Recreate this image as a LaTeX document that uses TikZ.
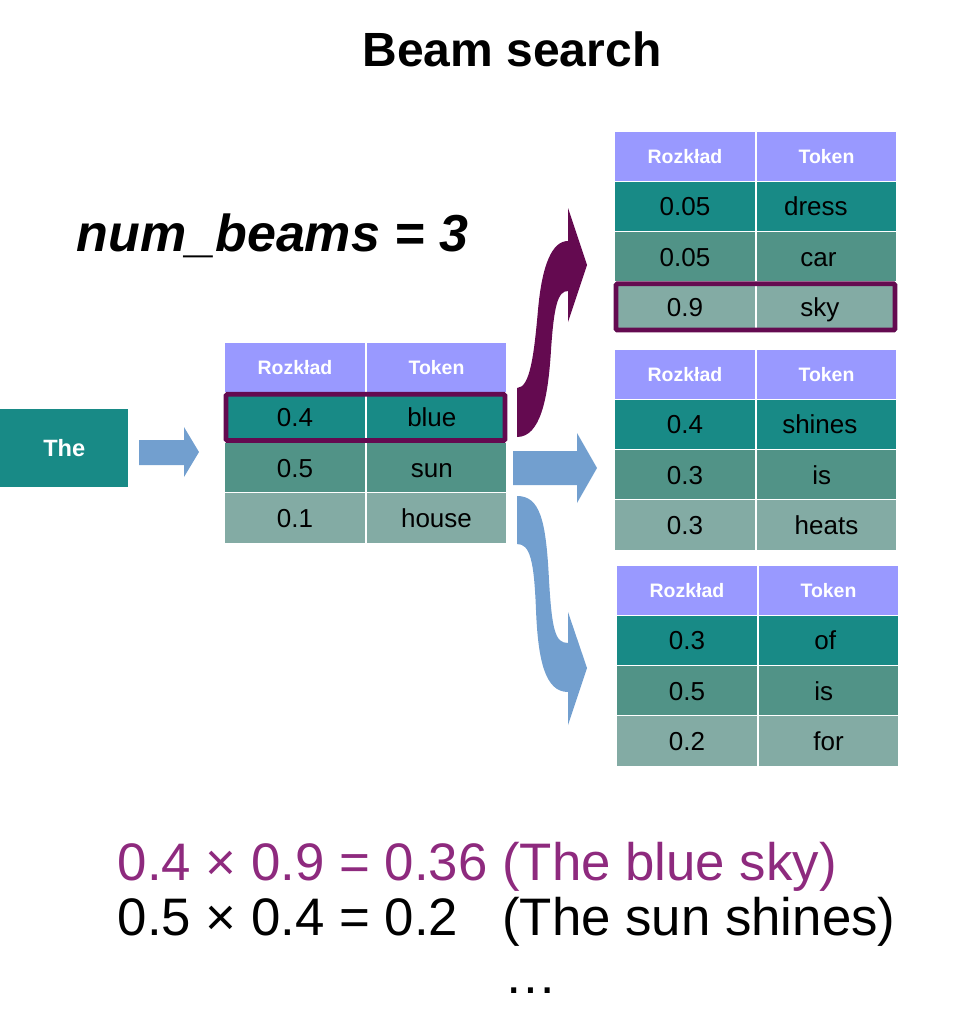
\documentclass[tikz,border=0pt]{standalone}
\usepackage{fontspec}
\setmainfont{Liberation Sans}
\usetikzlibrary{positioning}

\definecolor{hdrblue}{HTML}{9999FF}
\definecolor{tealA}{HTML}{188A86}
\definecolor{tealB}{HTML}{519387}
\definecolor{tealC}{HTML}{83ABA4}
\definecolor{arrowblue}{HTML}{729FCF}
\definecolor{pickpurple}{HTML}{640A50}
\definecolor{sumpurple}{HTML}{8E2A7E}

\tikzset{
  cell/.style={draw=white, line width=0.8pt, outer sep=0pt, inner sep=0pt,
    minimum height=37.7pt, text height=14pt, text depth=0pt, text=black,
    font=\fontsize{19.5}{23}\selectfont},
  colA/.style={minimum width=106.5pt},
  colB/.style={minimum width=105.75pt},
  hdrcell/.style={cell, fill=hdrblue, text=white, text height=10.5pt,
    font=\fontsize{14.6}{17}\selectfont\bfseries},
  rowA/.style={cell, fill=tealA},
  rowB/.style={cell, fill=tealB},
  rowC/.style={cell, fill=tealC},
  pickbox/.style={draw=pickpurple, line width=3.5pt, rounded corners=1pt},
}

% one table: name, x, y, then the three rows
\newcommand{\probtable}[9]{%
  \node[hdrcell, colA, anchor=north west] (#1h1) at (#2,#3) {Rozkład};
  \node[hdrcell, colB, right=0pt of #1h1] (#1h2) {Token};
  \node[rowA, colA, below=0pt of #1h1] (#1a1) {#4};
  \node[rowA, colB, below=0pt of #1h2] (#1a2) {#5};
  \node[rowB, colA, below=0pt of #1a1] (#1b1) {#6};
  \node[rowB, colB, below=0pt of #1a2] (#1b2) {#7};
  \node[rowC, colA, below=0pt of #1b1] (#1c1) {#8};
  \node[rowC, colB, below=0pt of #1b2] (#1c2) {#9};
}

\begin{document}
\begin{tikzpicture}[x=0.75pt, y=-0.75pt]

  \useasboundingbox (0,0) rectangle (954,1024);

  % Title
  \node[anchor=base, font=\fontsize{36}{40}\selectfont\bfseries] (title) at (512,67) {Beam search};
  \node[anchor=base west, font=\fontsize{39}{44}\selectfont\bfseries\itshape] (beams) at (72,251) {num\_beams = 3};

  % Start word
  \node[fill=tealA, text=white, minimum width=96pt, minimum height=58.5pt, inner sep=0pt,
    anchor=north west, font=\fontsize{17.7}{20}\selectfont\bfseries] (start) at (0,409) {The};

  % Tables
  \probtable{first}{224}{342}{0.4}{blue\hspace*{7pt}}{0.5}{sun\hspace*{7pt}}{0.1}{house}
  \probtable{up}{614}{131}{0.05}{dress\hspace*{16pt}}{0.05}{car\hspace*{12pt}}{0.9}{sky\hspace*{10pt}}
  \probtable{mid}{614}{349}{0.4}{shines\hspace*{10pt}}{0.3}{is\hspace*{7pt}}{0.3}{heats}
  \probtable{low}{616}{565}{0.3}{of\hspace*{5pt}}{0.5}{is\hspace*{7pt}}{0.2}{for}

  % Chosen rows
  \draw[pickbox] ([shift={(2,2)}]firsta1.north west) rectangle ([shift={(-2,-2)}]firsta2.south east);
  \draw[pickbox] ([shift={(2,2)}]upc1.north west) rectangle ([shift={(-2,-2)}]upc2.south east);

  % Straight arrows
  \fill[arrowblue] (139,440) -- (184,440) -- (184,427) -- (199,452) -- (184,477)
    -- (184,465) -- (139,465) -- cycle;
  \fill[arrowblue] (513,451) -- (577,451) -- (577,433) -- (597,468) -- (577,503)
    -- (577,485) -- (513,485) -- cycle;

  % Curved arrow up
  \fill[pickpurple] (587,265) -- (568,208) -- (568,241)
    .. controls (552,241) and (542,265) .. (538,310)
    .. controls (534,355) and (530,388) .. (517,388) -- (517,437)
    .. controls (540,437) and (548,400) .. (551,350)
    .. controls (554,305) and (558,291) .. (568,291) -- (568,322) -- cycle;

  % Curved arrow down
  \fill[arrowblue] (517,496)
    .. controls (540,496) and (546,520) .. (549,580)
    .. controls (552,630) and (555,643) .. (568,643) -- (568,612) -- (587,668)
    -- (568,725) -- (568,692)
    .. controls (545,692) and (538,660) .. (536,610)
    .. controls (534,560) and (530,544) .. (517,544) -- cycle;

  % Scores
  \node[anchor=base west, text=sumpurple, font=\fontsize{39.6}{46}\selectfont] (best) at (113,880)
    {0.4 × 0.9 = 0.36 (The blue sky)};
  \node[anchor=base west, font=\fontsize{39.6}{46}\selectfont] (next) at (113,935)
    {0.5 × 0.4 = 0.2~~~(The sun shines)};
  \node[anchor=base, font=\fontsize{39.6}{46}\selectfont] (dots) at (531,993) {…};

\end{tikzpicture}
\end{document}
